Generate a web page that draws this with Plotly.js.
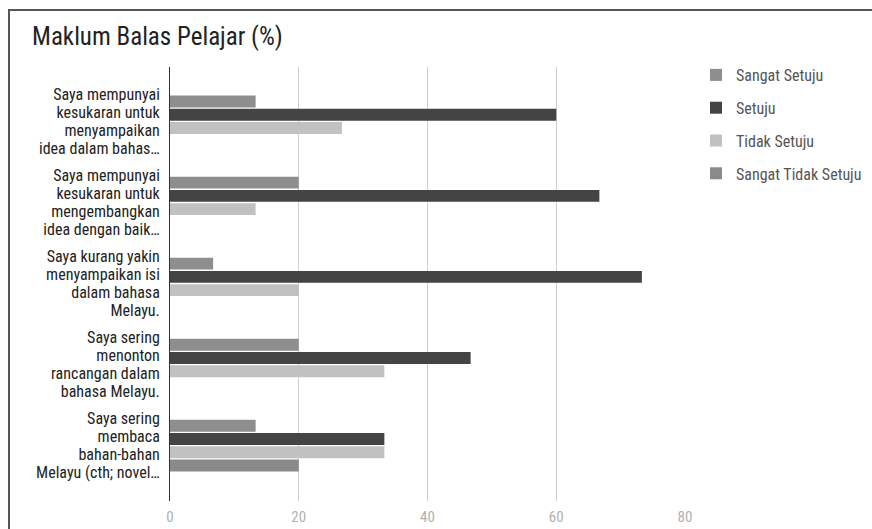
<!DOCTYPE html>
<html>
<head>
<meta charset="utf-8">
<script src="https://cdn.plot.ly/plotly-3.0.1.min.js"></script>
<style>
html,body{margin:0;padding:0;background:#fff;}
#wrap{position:relative;width:872px;height:529px;overflow:hidden;}
#chart{position:absolute;left:0;top:0;width:872px;height:529px;}
#frame{position:absolute;left:8px;top:9px;right:-10px;bottom:-10px;border-top:2px solid #555;border-left:2px solid #555;pointer-events:none;}
</style>
</head>
<body>
<div id="wrap"><div id="chart"></div><div id="frame"></div></div>
<script>
const categories = [
  "Saya mempunyai<br>kesukaran untuk<br>menyampaikan<br>idea dalam bahas…",
  "Saya mempunyai<br>kesukaran untuk<br>mengembangkan<br>idea dengan baik…",
  "Saya kurang yakin<br>menyampaikan isi<br>dalam bahasa<br>Melayu.",
  "Saya sering<br>menonton<br>rancangan dalam<br>bahasa Melayu.",
  "Saya sering<br>membaca<br>bahan-bahan<br>Melayu (cth; novel…"
];
const seriesNames = ["Sangat Setuju", "Setuju", "Tidak Setuju", "Sangat Tidak Setuju"];
const sangatSetuju = [13.3, 20, 6.7, 20, 13.3];
const setuju = [60, 66.7, 73.3, 46.7, 33.3];
const tidakSetuju = [26.7, 13.3, 20, 33.3, 33.3];
const sangatTidakSetuju = [0, 0, 0, 0, 20];
const xTicks = [0, 20, 40, 60, 80];
const colors = ["#8e8e8e", "#444444", "#c1c1c1", "#8a8a8a"];

const FONT = "'Liberation Sans Narrow', 'Roboto Condensed', Roboto, sans-serif";
const values = [sangatSetuju, setuju, tidakSetuju, sangatTidakSetuju];
const traces = values.map((v, i) => ({
  type: "bar",
  orientation: "h",
  name: seriesNames[i],
  x: v,
  y: categories,
  legendgroup: "g" + i,
  marker: {color: colors[i]},
  hoverinfo: "x+name"
}));

const layout = {
  width: 872, height: 529,
  margin: {l: 170, r: 187, t: 67, b: 27.5, pad: 0, autoexpand: false},
  paper_bgcolor: "#fff", plot_bgcolor: "#fff",
  font: {family: FONT, size: 16, color: "#222"},
  title: {text: "Maklum Balas Pelajar (%)", x: 32/872, xanchor: "left", xref: "container",
          y: 1 - 36/529, yanchor: "middle", yref: "container",
          font: {family: FONT, size: 25, color: "#222"}},
  barmode: "group", bargap: 0.346, bargroupgap: 0.1,
  xaxis: {range: [0, 80], tickvals: xTicks, ticktext: xTicks.map(String),
          showgrid: true, gridcolor: "#cfcfcf", gridwidth: 1, zeroline: false, showline: false,
          tickfont: {family: FONT, size: 15, color: "#b0b0b0"}, ticks: "", ticklabelstandoff: 5},
  yaxis: {type: "category", range: [4.684, -0.672], showline: true, linecolor: "#333", linewidth: 1,
          showgrid: false, zeroline: false, ticks: "", ticklabelstandoff: 6,
          tickfont: {family: FONT, size: 16, color: "#222"}},
  legend: {xref: "container", x: 696/872, xanchor: "left", yref: "container", y: 1 - 58/529, yanchor: "top",
           font: {family: FONT, size: 16, color: "#555"}, tracegroupgap: 9, traceorder: "grouped",
           bgcolor: "rgba(0,0,0,0)"},
  showlegend: true
};

function tightenLabels() {
  document.querySelectorAll("#chart .ytick text").forEach(t => {
    const lines = t.querySelectorAll("tspan.line");
    if (lines.length < 2) return;
    const b0 = t.getBBox();
    lines.forEach((s, i) => { s.setAttribute("dy", (i * 1.12) + "em"); });
    const b1 = t.getBBox();
    const shift = (b0.y + b0.height / 2) - (b1.y + b1.height / 2);
    lines.forEach(s => {
      s.setAttribute("y", (parseFloat(s.getAttribute("y")) || 0) + shift);
    });
  });
}
Plotly.newPlot("chart", traces, layout, {displayModeBar: false, staticPlot: true}).then(tightenLabels);
</script>
</body>
</html>
